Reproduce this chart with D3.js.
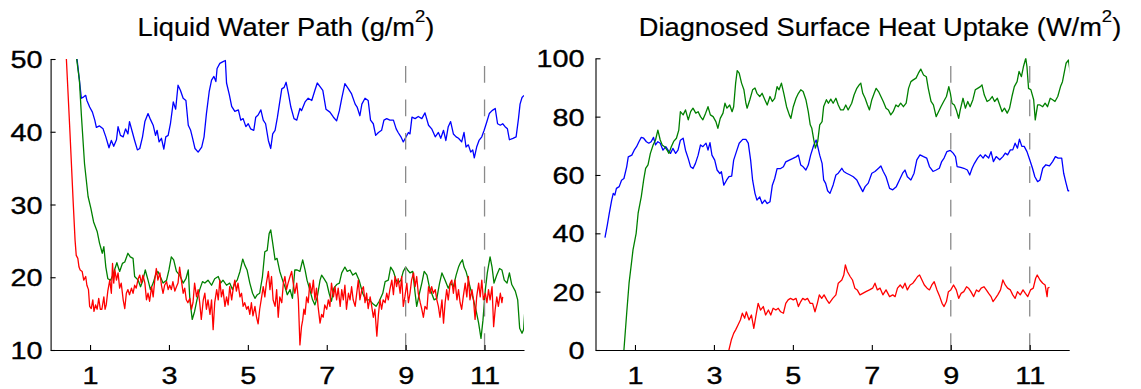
<!DOCTYPE html>
<html>
<head>
<meta charset="utf-8">
<script src="https://cdn.jsdelivr.net/npm/d3@7"></script>
<style>
  html, body { margin: 0; padding: 0; background: #fff; }
  svg { display: block; }
  text { font-family: "Liberation Sans", Arial, Helvetica, sans-serif; fill: #000; }
</style>
</head>
<body>
<svg id="chart" width="1141" height="389"></svg>
<script>
// ---- data: [time, value] pairs ----
const xTicks = [1, 3, 5, 7, 9, 11];
const markerTimes = [9, 11];
const lwpTicks = [10, 20, 30, 40, 50];
const heatTicks = [0, 20, 40, 60, 80, 100];
const seriesColors = ["#0000ff", "#008000", "#ff0000"];

const lwpBlue = [[0.62,55],[0.67,50],[0.73,47.1],[0.78,44.6],[0.84,44.8],[0.89,45.0],[0.92,44.3],[0.99,43.4],[1.06,42.7],[1.12,41.6],[1.16,40.6],[1.24,40.8],[1.33,40.4],[1.40,39.3],[1.48,37.8],[1.54,38.8],[1.60,38.0],[1.67,38.9],[1.71,40.7],[1.77,39.5],[1.84,39.3],[1.90,40.4],[1.96,39.7],[2.00,41.4],[2.07,40.0],[2.13,38.8],[2.20,37.5],[2.26,37.7],[2.33,39.3],[2.39,41.4],[2.47,42.5],[2.53,41.7],[2.60,40.9],[2.66,39.5],[2.70,40.2],[2.75,38.6],[2.81,39.1],[2.87,37.6],[2.92,39.3],[2.98,39.5],[3.04,41.2],[3.11,44.1],[3.17,43.1],[3.23,46.4],[3.29,45.7],[3.36,44.6],[3.43,44.3],[3.49,40.9],[3.55,40.2],[3.60,39.1],[3.66,37.7],[3.74,37.2],[3.83,37.9],[3.89,39.3],[3.95,42.5],[4.02,45.5],[4.08,47.1],[4.14,47.6],[4.19,46.9],[4.22,48.7],[4.29,49.4],[4.36,49.6],[4.43,49.8],[4.46,46.7],[4.53,45.1],[4.59,43.5],[4.67,42.8],[4.76,43.0],[4.82,41.6],[4.88,41.8],[4.95,40.7],[5.01,41.1],[5.07,40.4],[5.15,40.2],[5.20,42.0],[5.26,42.3],[5.33,43.0],[5.39,41.6],[5.45,41.1],[5.52,38.8],[5.58,37.7],[5.63,39.7],[5.69,40.2],[5.75,42.0],[5.80,43.8],[5.86,45.9],[5.92,46.1],[5.97,46.8],[6.03,45.2],[6.09,43.4],[6.17,41.8],[6.24,41.6],[6.32,43.2],[6.36,42.9],[6.45,44.1],[6.53,44.6],[6.62,44.3],[6.70,45.7],[6.76,46.7],[6.83,46.2],[6.90,45.7],[6.98,43.1],[7.08,42.7],[7.17,42.0],[7.25,41.5],[7.32,42.9],[7.38,44.6],[7.46,46.6],[7.55,45.9],[7.63,45.2],[7.72,43.8],[7.77,43.4],[7.84,42.2],[7.89,43.8],[7.97,44.6],[8.05,44.3],[8.11,41.6],[8.18,41.1],[8.24,39.5],[8.31,39.9],[8.39,40.2],[8.45,41.6],[8.52,41.8],[8.60,41.6],[8.69,41.6],[8.76,40.4],[8.81,39.9],[8.88,39.3],[8.94,38.6],[9.01,39.3],[9.07,39.9],[9.11,39.7],[9.16,42.0],[9.24,41.8],[9.32,42.1],[9.41,41.8],[9.49,42.6],[9.58,40.9],[9.66,40.4],[9.75,39.3],[9.83,39.9],[9.89,39.1],[9.96,40.2],[10.02,38.8],[10.08,40.7],[10.14,41.4],[10.21,39.7],[10.28,39.3],[10.34,39.1],[10.42,38.6],[10.48,39.9],[10.53,37.9],[10.59,38.2],[10.65,37.2],[10.70,37.5],[10.74,36.4],[10.80,37.9],[10.86,38.8],[10.93,39.3],[10.99,40.2],[11.06,41.4],[11.12,42.5],[11.19,42.9],[11.27,43.2],[11.33,41.1],[11.40,40.9],[11.46,41.1],[11.52,40.7],[11.58,40.4],[11.63,38.9],[11.72,39.1],[11.80,39.3],[11.86,41.8],[11.90,43.8],[11.95,44.7],[12.0,45.0]];

const lwpGreen = [[0.62,55],[0.66,50],[0.73,47.1],[0.78,42.3],[0.86,35.6],[0.95,31.1],[1.02,29.5],[1.09,27.6],[1.18,26.3],[1.24,24.7],[1.31,23.3],[1.35,24.2],[1.40,21.4],[1.45,19.8],[1.52,19.6],[1.58,20.3],[1.62,21.0],[1.68,22.0],[1.75,20.8],[1.82,21.9],[1.88,22.1],[1.96,23.3],[2.02,22.8],[2.09,22.6],[2.13,20.1],[2.22,19.6],[2.28,18.7],[2.34,19.6],[2.40,21.0],[2.47,19.6],[2.53,18.3],[2.60,19.2],[2.66,20.3],[2.72,20.8],[2.78,20.1],[2.85,19.2],[2.94,19.6],[3.00,21.0],[3.06,22.8],[3.12,22.4],[3.19,20.8],[3.27,20.3],[3.36,19.2],[3.43,19.8],[3.49,21.0],[3.53,16.9],[3.59,14.2],[3.65,15.3],[3.71,16.9],[3.78,18.3],[3.85,19.4],[3.91,19.2],[3.99,19.6],[4.08,18.9],[4.16,19.8],[4.25,20.1],[4.31,19.2],[4.37,19.6],[4.46,18.9],[4.54,19.2],[4.61,18.3],[4.67,19.2],[4.73,19.6],[4.80,20.8],[4.87,22.5],[4.92,21.7],[4.98,21.0],[5.05,19.2],[5.12,17.8],[5.18,17.1],[5.24,17.6],[5.30,17.8],[5.37,20.1],[5.43,23.5],[5.49,23.7],[5.54,26.0],[5.58,26.5],[5.63,24.7],[5.69,22.4],[5.74,22.6],[5.81,20.8],[5.88,19.6],[5.94,18.7],[6.00,17.6],[6.07,18.3],[6.13,17.1],[6.19,21.0],[6.25,21.0],[6.32,20.8],[6.39,22.4],[6.45,21.0],[6.50,19.6],[6.57,18.3],[6.64,16.9],[6.70,16.2],[6.76,17.3],[6.83,19.6],[6.87,20.3],[6.93,19.8],[7.00,19.2],[7.06,17.8],[7.12,16.7],[7.18,18.5],[7.25,19.0],[7.32,19.2],[7.38,20.6],[7.46,21.4],[7.52,20.8],[7.59,21.0],[7.66,20.3],[7.74,20.6],[7.82,19.6],[7.91,17.8],[7.99,16.9],[8.08,16.9],[8.16,16.4],[8.25,16.0],[8.33,16.7],[8.42,17.8],[8.48,19.4],[8.56,19.6],[8.62,21.4],[8.69,20.8],[8.76,19.6],[8.81,19.2],[8.88,19.6],[8.94,20.8],[9.00,21.4],[9.05,21.0],[9.11,20.6],[9.18,20.8],[9.24,17.8],[9.28,16.0],[9.35,17.8],[9.41,19.2],[9.47,20.8],[9.54,20.3],[9.60,18.7],[9.66,17.8],[9.72,16.9],[9.79,17.1],[9.86,19.2],[9.92,20.6],[10.00,19.6],[10.08,18.5],[10.14,19.2],[10.21,18.7],[10.28,20.3],[10.34,21.4],[10.38,21.9],[10.44,22.4],[10.48,21.4],[10.53,20.8],[10.59,19.6],[10.65,18.3],[10.72,16.9],[10.79,15.3],[10.85,13.7],[10.91,11.6],[10.96,14.1],[11.02,18.3],[11.07,20.6],[11.14,22.8],[11.19,21.4],[11.24,19.2],[11.31,20.3],[11.38,21.2],[11.44,21.0],[11.50,19.6],[11.57,19.2],[11.63,20.6],[11.69,19.0],[11.78,18.1],[11.84,16.9],[11.89,13.0],[11.95,12.3],[11.99,12.8],[12.03,16.2]];

const lwpRed = [[0.36,55],[0.40,50],[0.49,40.0],[0.57,30.6],[0.62,25.1],[0.65,23.0],[0.69,22.6],[0.72,21.4],[0.75,21.0],[0.80,20.8],[0.84,19.6],[0.89,20.1],[0.92,18.9],[0.96,18.3],[0.99,16.0],[1.03,15.7],[1.07,16.9],[1.10,15.3],[1.14,16.2],[1.18,15.6],[1.22,17.1],[1.26,15.6],[1.30,15.6],[1.35,17.3],[1.38,15.6],[1.41,16.2],[1.45,18.1],[1.50,19.6],[1.54,17.8],[1.57,21.9],[1.60,19.2],[1.63,21.0],[1.67,19.6],[1.71,20.6],[1.75,18.5],[1.79,19.2],[1.84,16.9],[1.88,15.7],[1.92,17.8],[1.96,18.3],[2.00,17.6],[2.05,18.5],[2.09,17.8],[2.13,18.9],[2.17,18.5],[2.22,19.8],[2.26,20.3],[2.30,19.2],[2.34,20.3],[2.39,19.2],[2.43,16.9],[2.47,17.8],[2.51,16.7],[2.56,18.7],[2.60,17.3],[2.64,19.6],[2.68,21.2],[2.72,19.6],[2.77,20.6],[2.81,18.9],[2.85,17.8],[2.89,18.9],[2.94,19.4],[2.98,18.3],[3.02,18.9],[3.06,18.3],[3.10,19.4],[3.15,18.1],[3.19,18.7],[3.23,19.2],[3.27,21.4],[3.32,19.4],[3.36,17.8],[3.40,18.5],[3.44,16.9],[3.48,16.5],[3.53,17.1],[3.57,15.6],[3.61,16.5],[3.65,19.2],[3.70,17.3],[3.74,18.3],[3.78,16.5],[3.82,14.2],[3.87,16.9],[3.91,17.8],[3.95,15.6],[3.99,16.9],[4.04,14.9],[4.08,16.9],[4.12,12.8],[4.16,16.5],[4.21,18.3],[4.25,16.9],[4.29,19.6],[4.33,17.3],[4.37,18.3],[4.42,16.0],[4.46,17.3],[4.50,16.2],[4.54,18.7],[4.59,16.9],[4.63,18.5],[4.67,19.6],[4.71,18.1],[4.75,19.2],[4.80,17.3],[4.84,17.8],[4.88,16.0],[4.92,16.5],[4.97,15.6],[5.01,16.0],[5.05,14.9],[5.09,16.5],[5.13,14.7],[5.18,16.0],[5.22,14.5],[5.26,13.6],[5.30,15.6],[5.35,17.3],[5.39,18.7],[5.43,17.3],[5.47,19.2],[5.52,20.8],[5.56,18.3],[5.60,20.1],[5.64,16.9],[5.69,16.0],[5.73,18.3],[5.77,14.5],[5.81,17.3],[5.86,16.5],[5.90,19.2],[5.94,20.1],[5.98,18.3],[6.02,19.2],[6.07,20.1],[6.11,20.8],[6.15,19.2],[6.19,17.8],[6.24,19.2],[6.28,16.9],[6.32,10.7],[6.36,13.2],[6.39,14.1],[6.42,15.6],[6.45,14.9],[6.49,17.3],[6.53,16.5],[6.57,19.2],[6.62,17.8],[6.66,19.6],[6.70,16.9],[6.74,18.5],[6.78,16.0],[6.83,13.7],[6.87,14.9],[6.91,14.5],[6.95,16.2],[7.00,15.6],[7.04,16.9],[7.08,16.0],[7.12,19.2],[7.17,17.3],[7.21,18.7],[7.25,16.9],[7.29,18.5],[7.34,16.0],[7.38,18.3],[7.42,16.9],[7.46,18.9],[7.50,15.6],[7.55,17.8],[7.59,16.9],[7.63,18.7],[7.67,16.9],[7.72,16.0],[7.76,17.8],[7.80,19.6],[7.84,16.9],[7.89,18.3],[7.93,18.7],[7.97,16.5],[8.01,17.8],[8.05,15.7],[8.10,17.3],[8.14,16.0],[8.18,14.5],[8.22,15.6],[8.27,11.9],[8.31,14.9],[8.35,16.9],[8.39,15.6],[8.43,16.9],[8.48,16.5],[8.52,17.8],[8.56,16.9],[8.60,18.3],[8.65,19.6],[8.69,17.6],[8.73,20.1],[8.77,18.7],[8.81,19.8],[8.86,17.8],[8.90,20.1],[8.94,16.0],[8.98,17.3],[9.03,19.2],[9.07,16.5],[9.11,17.8],[9.15,19.6],[9.20,20.6],[9.24,18.7],[9.28,20.1],[9.32,17.8],[9.37,16.5],[9.41,15.6],[9.45,14.5],[9.49,16.0],[9.54,15.6],[9.58,18.7],[9.62,17.8],[9.66,18.7],[9.70,17.8],[9.75,18.3],[9.79,16.9],[9.83,16.0],[9.87,14.5],[9.92,16.9],[9.96,13.7],[10.00,16.5],[10.04,18.3],[10.08,16.9],[10.13,19.2],[10.17,19.6],[10.21,17.8],[10.25,19.6],[10.30,16.9],[10.34,18.3],[10.38,16.5],[10.42,15.6],[10.46,17.3],[10.51,19.2],[10.55,17.3],[10.59,20.1],[10.63,16.9],[10.68,18.3],[10.72,16.9],[10.76,14.2],[10.80,17.3],[10.85,19.2],[10.89,17.3],[10.93,19.6],[10.97,16.9],[11.02,17.8],[11.06,16.5],[11.10,18.3],[11.14,16.9],[11.19,18.7],[11.23,13.2],[11.27,15.6],[11.31,17.3],[11.35,16.0],[11.40,17.8],[11.44,16.5],[11.46,17.3]];

const heatBlue = [[0.24,38.5],[0.30,42.9],[0.35,46.9],[0.41,51.4],[0.45,53.7],[0.49,53.1],[0.53,55.4],[0.60,56.0],[0.66,58.2],[0.72,58.8],[0.79,62.8],[0.83,66.2],[0.92,66.8],[0.98,68.5],[1.04,69.7],[1.10,71.4],[1.16,72.9],[1.22,72.6],[1.29,71.4],[1.35,70.9],[1.41,71.4],[1.47,72.9],[1.52,70.3],[1.58,71.4],[1.64,70.9],[1.71,68.5],[1.78,69.7],[1.84,68.5],[1.90,67.4],[1.96,69.1],[2.03,67.4],[2.09,68.5],[2.15,71.9],[2.22,72.6],[2.28,68.5],[2.35,65.6],[2.41,62.8],[2.47,62.2],[2.53,63.9],[2.60,66.8],[2.66,70.3],[2.72,69.7],[2.80,70.9],[2.85,68.5],[2.90,71.1],[2.95,66.8],[3.02,65.1],[3.08,61.7],[3.15,60.5],[3.19,61.1],[3.25,56.5],[3.32,58.2],[3.38,59.4],[3.45,59.6],[3.50,65.1],[3.57,68.0],[3.64,70.9],[3.73,72.2],[3.81,72.2],[3.87,70.9],[3.93,65.1],[3.98,58.2],[4.04,53.7],[4.09,51.4],[4.16,52.5],[4.22,50.2],[4.29,51.4],[4.35,50.2],[4.42,50.8],[4.48,56.5],[4.54,58.8],[4.60,62.2],[4.69,62.2],[4.76,62.8],[4.82,64.5],[4.91,65.1],[4.99,65.6],[5.08,66.2],[5.14,66.8],[5.20,63.4],[5.26,62.8],[5.33,61.7],[5.39,63.4],[5.45,66.8],[5.53,70.3],[5.59,72.0],[5.63,69.7],[5.68,66.8],[5.74,64.0],[5.78,58.3],[5.83,57.1],[5.88,54.6],[5.94,53.7],[6.02,56.6],[6.09,60.0],[6.15,60.6],[6.24,62.3],[6.29,61.2],[6.36,60.6],[6.45,60.0],[6.53,59.4],[6.62,58.3],[6.68,56.6],[6.77,54.3],[6.83,56.0],[6.91,57.2],[7.00,60.6],[7.08,61.2],[7.17,62.3],[7.23,63.1],[7.29,61.2],[7.36,59.4],[7.45,55.4],[7.53,54.9],[7.62,56.0],[7.70,58.3],[7.78,60.6],[7.84,61.7],[7.90,59.4],[7.99,58.3],[8.07,60.6],[8.14,65.2],[8.22,66.9],[8.31,66.3],[8.39,65.8],[8.46,62.9],[8.55,61.2],[8.63,61.7],[8.71,62.3],[8.77,64.6],[8.83,65.8],[8.90,68.0],[8.99,68.4],[9.06,67.5],[9.12,66.3],[9.16,62.9],[9.25,62.6],[9.33,62.3],[9.42,61.7],[9.48,60.0],[9.54,62.3],[9.60,64.0],[9.68,65.8],[9.75,66.9],[9.82,65.8],[9.87,66.9],[9.96,65.8],[10.02,68.0],[10.08,64.6],[10.15,66.3],[10.24,65.2],[10.32,66.3],[10.38,67.5],[10.44,66.9],[10.51,68.6],[10.57,68.6],[10.63,70.9],[10.69,69.2],[10.74,72.3],[10.80,69.8],[10.86,69.8],[10.93,68.0],[11.00,65.2],[11.07,62.3],[11.13,59.4],[11.20,57.7],[11.26,58.3],[11.33,62.3],[11.41,63.5],[11.50,63.1],[11.58,64.6],[11.65,66.3],[11.72,65.8],[11.81,65.8],[11.86,60.6],[11.92,57.2],[11.97,54.6],[12.02,54.6]];

const heatGreen = [[0.70,-3],[0.72,0],[0.79,12.6],[0.85,22.9],[0.91,29.7],[0.95,34.3],[1.03,40.0],[1.08,46.9],[1.16,52.6],[1.22,58.3],[1.27,62.3],[1.33,63.5],[1.39,67.4],[1.46,70.3],[1.52,72.0],[1.58,75.4],[1.64,72.0],[1.69,70.3],[1.75,69.7],[1.81,68.6],[1.86,67.4],[1.92,69.7],[1.98,71.5],[2.05,72.6],[2.11,75.4],[2.15,81.7],[2.22,80.6],[2.28,82.3],[2.35,78.9],[2.41,81.7],[2.47,82.9],[2.54,81.2],[2.60,81.7],[2.66,80.0],[2.72,78.9],[2.79,81.2],[2.85,83.4],[2.91,80.6],[2.98,80.0],[3.05,78.3],[3.10,76.0],[3.16,79.4],[3.23,81.2],[3.28,84.6],[3.33,82.9],[3.40,84.0],[3.46,81.7],[3.50,83.4],[3.55,91.5],[3.59,95.8],[3.64,94.9],[3.70,91.5],[3.76,89.2],[3.81,84.6],[3.84,82.9],[3.91,85.8],[3.98,89.2],[4.04,89.8],[4.09,88.0],[4.16,86.9],[4.22,88.0],[4.29,85.8],[4.35,84.0],[4.42,86.9],[4.48,85.2],[4.54,86.3],[4.60,90.3],[4.65,89.2],[4.71,91.5],[4.77,88.0],[4.84,83.4],[4.91,80.6],[4.95,79.4],[5.01,83.4],[5.08,86.3],[5.14,88.0],[5.20,89.2],[5.26,88.6],[5.33,85.8],[5.39,81.7],[5.44,77.2],[5.48,76.0],[5.53,72.0],[5.57,69.2],[5.63,71.5],[5.68,77.2],[5.74,78.3],[5.78,83.5],[5.85,85.8],[5.90,84.6],[5.96,86.0],[6.02,84.6],[6.09,86.3],[6.15,84.0],[6.21,82.3],[6.28,82.3],[6.34,84.0],[6.40,82.3],[6.49,84.6],[6.55,87.4],[6.62,89.7],[6.68,90.9],[6.72,91.5],[6.77,88.0],[6.83,86.3],[6.89,84.0],[6.94,82.3],[7.00,85.8],[7.06,88.0],[7.11,89.7],[7.17,88.6],[7.23,86.9],[7.29,85.2],[7.36,82.9],[7.42,82.3],[7.48,80.6],[7.54,81.7],[7.61,84.0],[7.67,83.4],[7.73,84.6],[7.80,83.4],[7.87,84.6],[7.93,89.7],[7.99,92.0],[8.05,92.6],[8.12,93.2],[8.18,94.9],[8.24,96.3],[8.31,94.3],[8.38,93.7],[8.43,89.7],[8.50,85.2],[8.56,84.0],[8.63,80.0],[8.69,81.7],[8.75,83.4],[8.82,85.2],[8.89,86.9],[8.95,90.3],[8.99,88.0],[9.03,84.6],[9.09,84.0],[9.14,82.3],[9.20,79.4],[9.24,82.3],[9.31,86.3],[9.37,82.9],[9.43,85.2],[9.49,83.4],[9.56,85.8],[9.62,89.2],[9.68,89.7],[9.75,90.3],[9.79,90.9],[9.85,87.4],[9.92,85.2],[9.99,85.8],[10.05,86.9],[10.11,85.2],[10.18,86.3],[10.24,84.0],[10.30,81.7],[10.36,82.9],[10.43,81.2],[10.49,82.9],[10.55,86.9],[10.61,90.3],[10.68,92.0],[10.73,95.5],[10.79,93.7],[10.84,97.1],[10.90,100.0],[10.93,97.1],[10.97,89.7],[11.03,89.2],[11.10,85.8],[11.14,78.9],[11.20,84.0],[11.26,84.0],[11.33,83.4],[11.39,84.6],[11.45,83.4],[11.52,86.3],[11.58,85.8],[11.64,85.2],[11.71,86.9],[11.78,90.3],[11.83,92.0],[11.88,95.5],[11.92,98.3],[11.98,99.4],[12.03,94.9]];

const heatRed = [[3.36,-2],[3.38,0],[3.44,3.4],[3.50,5.7],[3.55,6.9],[3.61,8.6],[3.67,10.3],[3.72,12.6],[3.78,10.9],[3.82,13.1],[3.89,10.3],[3.95,12.0],[4.01,7.4],[4.06,11.4],[4.12,16.0],[4.18,13.7],[4.25,14.9],[4.31,12.0],[4.38,13.7],[4.44,12.0],[4.50,14.3],[4.57,13.7],[4.63,14.3],[4.69,13.1],[4.76,12.6],[4.82,16.0],[4.88,17.2],[4.94,17.7],[5.01,17.2],[5.08,17.7],[5.14,14.9],[5.20,16.6],[5.25,17.7],[5.31,17.2],[5.37,17.7],[5.44,16.0],[5.50,16.0],[5.56,13.1],[5.62,16.0],[5.67,18.9],[5.73,17.7],[5.79,18.9],[5.86,17.2],[5.92,16.0],[6.01,17.7],[6.09,18.9],[6.15,22.9],[6.24,24.0],[6.29,25.7],[6.33,29.2],[6.38,26.9],[6.45,25.2],[6.51,24.0],[6.57,21.2],[6.63,20.6],[6.70,18.9],[6.77,19.4],[6.85,20.0],[6.94,20.6],[7.02,21.2],[7.08,22.9],[7.14,20.6],[7.21,21.2],[7.28,18.9],[7.36,20.6],[7.45,18.3],[7.53,18.9],[7.59,18.3],[7.65,21.2],[7.72,22.3],[7.78,21.2],[7.84,22.9],[7.90,20.6],[7.97,22.3],[8.04,22.9],[8.10,24.0],[8.16,25.2],[8.21,25.7],[8.27,24.0],[8.33,22.3],[8.40,21.2],[8.46,20.6],[8.52,22.3],[8.58,23.4],[8.65,20.6],[8.72,18.3],[8.78,16.0],[8.83,14.9],[8.89,16.6],[8.94,20.0],[9.00,20.6],[9.07,22.3],[9.14,20.6],[9.20,17.7],[9.26,19.4],[9.33,20.0],[9.40,21.7],[9.45,21.2],[9.51,20.0],[9.58,18.3],[9.65,20.6],[9.71,20.0],[9.77,21.2],[9.84,21.7],[9.90,20.6],[9.96,19.4],[10.02,18.3],[10.07,16.6],[10.13,17.7],[10.19,18.9],[10.26,20.6],[10.32,24.0],[10.38,22.3],[10.44,21.2],[10.51,20.6],[10.57,18.9],[10.63,17.7],[10.69,20.0],[10.76,18.9],[10.83,20.6],[10.89,19.4],[10.95,18.3],[11.02,20.6],[11.09,21.2],[11.15,24.6],[11.19,25.7],[11.26,24.0],[11.33,22.9],[11.39,22.3],[11.44,18.3],[11.46,21.2],[11.50,21.5]];

// ---- layout ----
const svg = d3.select("#chart");
const TICK_FONT = 24, TICK_SX = 1.2;
const TITLE_FONT = 25, TITLE_SX = 1.09;

const panels = [
  {
    id: "lwp",
    title: ["Liquid Water Path (g/m", "2", ")"],
    titleX: 286,
    xRange: [50.6, 524],
    yDomain: [10, 50], yRange: [350, 59],
    yTicks: lwpTicks, labelGap: 8,
    series: [lwpBlue, lwpGreen, lwpRed]
  },
  {
    id: "heat",
    title: ["Diagnosed Surface Heat Uptake (W/m", "2", ")"],
    titleX: 880,
    xRange: [595.5, 1069.2],
    yDomain: [0, 100], yRange: [350, 58.3],
    yTicks: heatTicks, labelGap: 11,
    series: [heatBlue, heatGreen, heatRed]
  }
];

panels.forEach(p => {
  const x = d3.scaleLinear().domain([0, 12]).range(p.xRange);
  const y = d3.scaleLinear().domain(p.yDomain).range(p.yRange);
  const g = svg.append("g");

  // clip region for the traces
  g.append("clipPath").attr("id", "clip-" + p.id)
    .append("rect")
    .attr("x", p.xRange[0]).attr("y", p.yRange[1])
    .attr("width", p.xRange[1] - p.xRange[0])
    .attr("height", p.yRange[0] - p.yRange[1]);

  const line = d3.line().x(d => x(d[0])).y(d => y(d[1]));

  const traces = g.append("g").attr("clip-path", `url(#clip-${p.id})`);
  p.series.forEach((s, i) => {
    traces.append("path")
      .datum(s)
      .attr("d", line)
      .attr("fill", "none")
      .attr("stroke", seriesColors[i])
      .attr("stroke-width", 1.3)
      .attr("stroke-linejoin", "round");
  });

  // dashed markers, dashes laid out from the bottom axis upward
  g.selectAll("line.marker").data(markerTimes).join("line")
    .attr("class", "marker")
    .attr("x1", d => x(d)).attr("x2", d => x(d))
    .attr("y1", p.yRange[0]).attr("y2", p.yRange[1])
    .attr("stroke", "#8a8a8a")
    .attr("stroke-width", 1.3)
    .attr("stroke-dasharray", "16.7,16.7");

  // axes with inward ticks
  const xAxis = d3.axisBottom(x).tickValues(xTicks).tickSize(-5).tickSizeOuter(0).tickPadding(0).tickFormat(d3.format("d"));
  const yAxis = d3.axisLeft(y).tickValues(p.yTicks).tickSize(-5).tickSizeOuter(0).tickPadding(0).tickFormat(d3.format("d"));

  const gx = g.append("g").attr("transform", `translate(0,${p.yRange[0]})`).call(xAxis);
  const gy = g.append("g").attr("transform", `translate(${p.xRange[0]},0)`).call(yAxis);

  [gx, gy].forEach(ax => {
    ax.select(".domain").attr("stroke", "#000").attr("stroke-width", 1.1);
    ax.selectAll(".tick line").attr("stroke", "#000").attr("stroke-width", 1.1);
    ax.selectAll(".tick text")
      .attr("font-family", '"Liberation Sans", Arial, sans-serif')
      .attr("font-size", TICK_FONT)
      .attr("fill", "#000")
      .attr("stroke", "#000")
      .attr("stroke-width", 0.35);
  });

  gx.selectAll(".tick text")
    .attr("y", null).attr("dy", null)
    .attr("transform", `translate(0,33.5) scale(${TICK_SX},1)`);

  gy.selectAll(".tick text")
    .attr("x", null).attr("dy", "0.36em")
    .attr("text-anchor", "end")
    .attr("transform", `translate(${-p.labelGap},0) scale(${TICK_SX},1)`);

  // title with superscript
  const t = svg.append("text")
    .attr("text-anchor", "middle")
    .attr("font-size", TITLE_FONT)
    .attr("stroke", "#000")
    .attr("stroke-width", 0.2)
    .attr("transform", `translate(${p.titleX},35.5) scale(${TITLE_SX},1)`);
  t.append("tspan").text(p.title[0]);
  t.append("tspan").text(p.title[1]).attr("font-size", 17).attr("dy", -14);
  t.append("tspan").text(p.title[2]).attr("dy", 14);
});
</script>
</body>
</html>
